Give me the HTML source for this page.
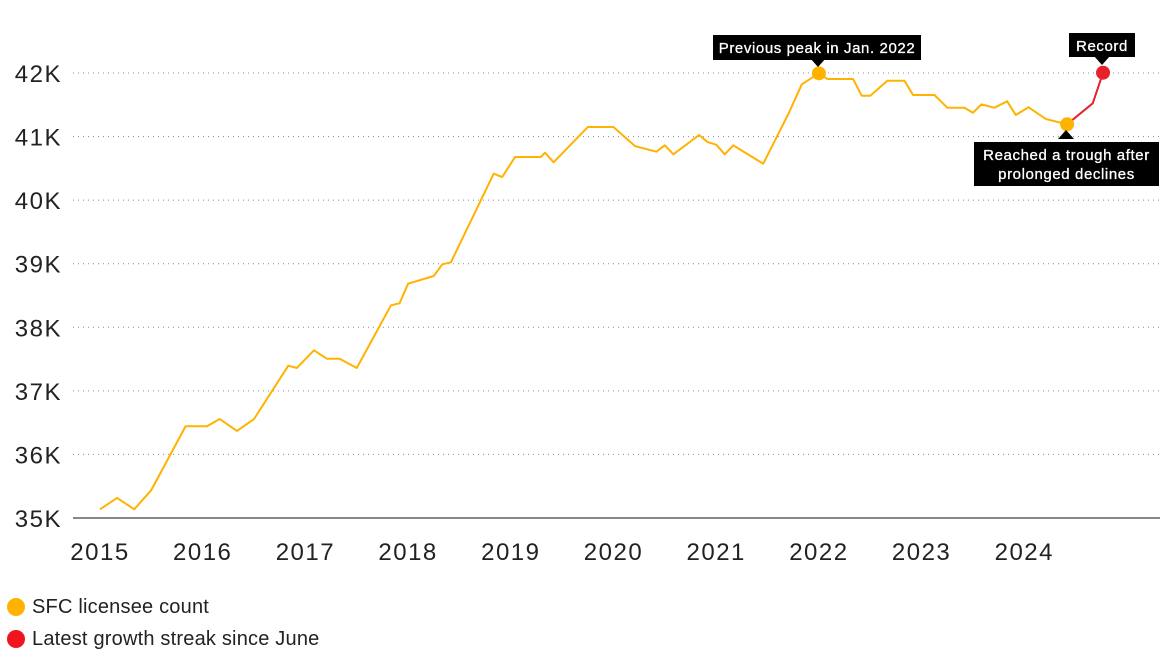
<!DOCTYPE html>
<html><head><meta charset="utf-8"><style>
body{margin:0;background:#fff;width:1173px;height:660px;overflow:hidden;font-family:"Liberation Sans",sans-serif;}
</style></head><body>
<svg id="chart" width="1173" height="660" xmlns="http://www.w3.org/2000/svg" font-family="Liberation Sans, sans-serif"></svg>
<script>
const months=[0,2,4,6,10,12.5,14,16,18,22,23,25,26.5,28,30,34,35,36,39,40,41,46,47,48.5,51.5,52,53,57,60,62.5,65,66,67,70,71,72,73,74,77.5,80.5,82,84,85,88,89,90,92,94,95,97.5,99,101,102,103,104.5,106,107,108.5,110.5,113];
const values=[35137,35315,35137,35440,36443,36443,36557,36369,36557,37396,37360,37638,37506,37506,37360,38346,38377,38686,38807,38991,39022,40416,40364,40679,40679,40746,40595,41150,41150,40851,40762,40862,40721,41025,40914,40872,40721,40862,40573,41375,41822,41995,41905,41905,41643,41643,41879,41879,41654,41654,41454,41454,41375,41507,41454,41555,41340,41461,41277,41193];
const redMonths=[113,116,117.2];
const redValues=[41193,41523,42005];
const yTicks=[35000,36000,37000,38000,39000,40000,41000,42000];
const yTickLabels=["35K","36K","37K","38K","39K","40K","41K","42K"];
const xYears=[2015,2016,2017,2018,2019,2020,2021,2022,2023,2024];
const svg=document.getElementById('chart');
const NS='http://www.w3.org/2000/svg';
const xM=m=>100+m*102.7/12;
const xY=yr=>100+(yr-2015)*102.7;
const yV=v=>518-(v-35000)*0.06357;
function mk(tag,attrs,parent){const e=document.createElementNS(NS,tag);for(const k in attrs)e.setAttribute(k,attrs[k]);(parent||svg).appendChild(e);return e;}
yTicks.forEach((v,i)=>{
  if(i>0){const g=mk('line',{x1:73,x2:1160,y1:yV(v),y2:yV(v),stroke:'#888','stroke-width':1,'stroke-dasharray':'1 4'});
  
  }
  const t=mk('text',{x:62,y:yV(v)+9,'text-anchor':'end','font-size':24,'letter-spacing':1.5,fill:'#222'});t.textContent=yTickLabels[i];
  
  
});
const ax=mk('line',{x1:73,x2:1160,y1:518,y2:518,stroke:'#888','stroke-width':2});


xYears.forEach(yr=>{const t=mk('text',{x:xY(yr),y:560,'text-anchor':'middle','font-size':24,'letter-spacing':1.5,fill:'#222'});t.textContent=yr;
  
  });
const line=mk('polyline',{points:months.map((m,i)=>xM(m)+','+yV(values[i])).join(' '),fill:'none',stroke:'#FFB300','stroke-width':2,'stroke-linejoin':'round'});


const rline=mk('polyline',{points:redMonths.map((m,i)=>xM(m)+','+yV(redValues[i])).join(' '),fill:'none',stroke:'#E8202A','stroke-width':2});


let pi=values.indexOf(Math.max(...values));
const pk=mk('circle',{cx:xM(months[pi]),cy:yV(values[pi]),r:7,fill:'#FFB300'});


const tr=mk('circle',{cx:xM(months[months.length-1]),cy:yV(values[values.length-1]),r:7,fill:'#FFB300'});


const rc=mk('circle',{cx:xM(redMonths[2]),cy:yV(redValues[2]),r:7,fill:'#E8202A'});


function callout(name,x,y,w,h,lines,tip,tipY,dir){
  const g=mk('g',{});
  
  
  mk('rect',{x:x,y:y,width:w,height:h,fill:'#000'},g);
  const p=dir==='down'?`${tip-8},${tipY-9} ${tip+8},${tipY-9} ${tip},${tipY}`:`${tip-8},${tipY+9} ${tip+8},${tipY+9} ${tip},${tipY}`;
  mk('polygon',{points:p,fill:'#000'},g);
  lines.forEach((s,i)=>{const t=mk('text',{x:x+w/2,y:y+18+i*19,'text-anchor':'middle','font-size':15,'letter-spacing':0.6,fill:'#fff','stroke':'#fff','stroke-width':0.3},g);t.textContent=s;});
}
callout('peak-callout',713,35,208,25,['Previous peak in Jan. 2022'],818,67,'down');
callout('record-callout',1069,33,66,24,['Record'],1102,65,'down');
callout('trough-callout',974,142,185,44,['Reached a trough after','prolonged declines'],1066,130,'up');
</script>
<div style="position:absolute;left:0;top:592px;font-size:20px;letter-spacing:0.2px;color:#222;">
 <div style="position:absolute;left:7px;top:4px;white-space:nowrap;"><span style="display:inline-block;width:18px;height:18px;border-radius:50%;background:#FFB300;vertical-align:-3px;margin-right:7px;"></span>SFC licensee count</div>
 <div style="position:absolute;left:7px;top:36px;white-space:nowrap;"><span style="display:inline-block;width:18px;height:18px;border-radius:50%;background:#F0141E;vertical-align:-3px;margin-right:7px;"></span>Latest growth streak since June</div>
</div>
</body></html>
